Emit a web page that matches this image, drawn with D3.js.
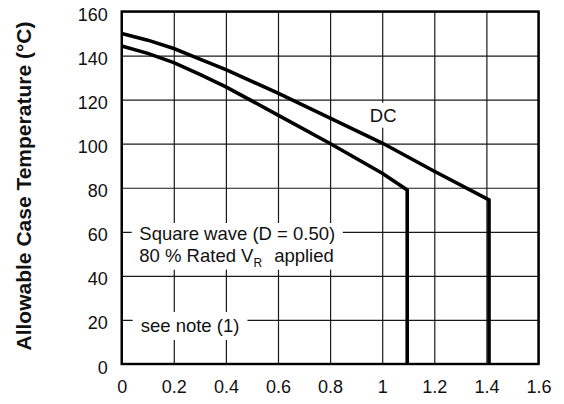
<!DOCTYPE html>
<html>
<head>
<meta charset="utf-8">
<script src="https://cdn.jsdelivr.net/npm/d3@7"></script>
<style>
html,body{margin:0;padding:0;background:#fff;}
svg{display:block;font-family:"Liberation Sans",Arial,Helvetica,sans-serif;}
</style>
</head>
<body>
<svg id="chart" width="564" height="404"></svg>
<script>
// ---- data ----
const xTicks = [0, 0.2, 0.4, 0.6, 0.8, 1, 1.2, 1.4, 1.6];
const xTickLabels = ["0", "0.2", "0.4", "0.6", "0.8", "1", "1.2", "1.4", "1.6"];
const yTicks = [0, 20, 40, 60, 80, 100, 120, 140, 160];
const yTickLabels = ["0", "20", "40", "60", "80", "100", "120", "140", "160"];

const dcX = [0, 0.1, 0.2, 0.3, 0.4, 0.6, 0.8, 1.0, 1.2, 1.41, 1.41];
const dcY = [150, 147, 143.2, 138.4, 133.6, 123, 111.6, 100.3, 87.5, 74.5, 0];

const sqX = [0, 0.1, 0.2, 0.3, 0.4, 0.6, 0.8, 1.0, 1.096, 1.096];
const sqY = [144.3, 141, 136.8, 131.5, 125.8, 113, 100.1, 86.6, 79, 0];

const yTitle = "Allowable Case Temperature (°C)";

// ---- layout ----
const svg = d3.select("#chart");
const mLeft = 121.7, mRight = 538.5, mTop = 11.5, mBottom = 364;
const x = d3.scaleLinear().domain([0, 1.6]).range([mLeft, mRight]);
const y = d3.scaleLinear().domain([0, 160]).range([mBottom, mTop]);

// grid
const gx = svg.append("g").attr("transform", `translate(0,${mBottom})`)
  .call(d3.axisBottom(x).tickValues(xTicks).tickSize(-(mBottom - mTop)).tickFormat((d, i) => xTickLabels[i]).tickPadding(16.5));
const gy = svg.append("g").attr("transform", `translate(${mLeft},0)`)
  .call(d3.axisLeft(y).tickValues(yTicks).tickSize(-(mRight - mLeft)).tickFormat((d, i) => yTickLabels[i]).tickPadding(14));
[gx, gy].forEach(g => {
  g.select(".domain").remove();
  g.selectAll(".tick line").attr("stroke", "#1a1a1a").attr("stroke-width", 1.2);
  g.selectAll(".tick text").attr("fill", "#111").style("font-size", "18px")
    .style("font-family", "'Liberation Sans',Arial,Helvetica,sans-serif");
});
gy.selectAll(".tick text").attr("dy", "0.5em");

// annotation boxes (white backgrounds) and texts
const ann = svg.append("g");

function boxed(buildText, padX, padTop, padBottom) {
  const g = ann.append("g");
  const rect = g.append("rect").attr("fill", "#fff");
  const t = buildText(g);
  const bb = t.node().getBBox();
  rect.attr("x", bb.x - padX).attr("y", bb.y - padTop)
      .attr("width", bb.width + 2 * padX).attr("height", bb.height + padTop + padBottom);
  return g;
}

// DC label
boxed(g => g.append("text").attr("x", x(1.0) + 1).attr("y", 121.7)
  .attr("text-anchor", "middle").style("font-size", "18.5px").attr("fill", "#111").text("DC"), 10, 2, 2);

// Square wave label
boxed(g => {
  const t = g.append("text").style("font-size", "18.5px").attr("fill", "#111");
  t.append("tspan").attr("x", 139.3).attr("y", 240).text("Square wave (D = 0.50)");
  t.append("tspan").attr("x", 139.3).attr("y", 261.7).text("80 % Rated V");
  t.append("tspan").attr("dy", 5).style("font-size", "12px").text("R");
  t.append("tspan").attr("dy", -5).attr("dx", 12).text("applied");
  return t;
}, 7.6, 0, 0);

// see note label
boxed(g => g.append("text").attr("x", 140.7).attr("y", 332)
  .style("font-size", "18.5px").attr("fill", "#111").text("see note (1)"), 8, 3, 4);

// curves
const line = d3.line().x(d => x(d[0])).y(d => y(d[1])).curve(d3.curveLinear);
svg.append("path").datum(dcX.map((v, i) => [v, dcY[i]]))
  .attr("d", line).attr("fill", "none").attr("stroke", "#000").attr("stroke-width", 3.6)
  .attr("stroke-linejoin", "miter");
svg.append("path").datum(sqX.map((v, i) => [v, sqY[i]]))
  .attr("d", line).attr("fill", "none").attr("stroke", "#000").attr("stroke-width", 3.6)
  .attr("stroke-linejoin", "miter");

// frame
svg.append("rect").attr("x", mLeft).attr("y", mTop).attr("width", mRight - mLeft).attr("height", mBottom - mTop)
  .attr("fill", "none").attr("stroke", "#000").attr("stroke-width", 2.4);

// y title
svg.append("text").attr("transform", `translate(31,186) rotate(-90)`)
  .attr("text-anchor", "middle").style("font-size", "21px").style("font-weight", "bold")
  .attr("fill", "#111").text(yTitle);
</script>
</body>
</html>
